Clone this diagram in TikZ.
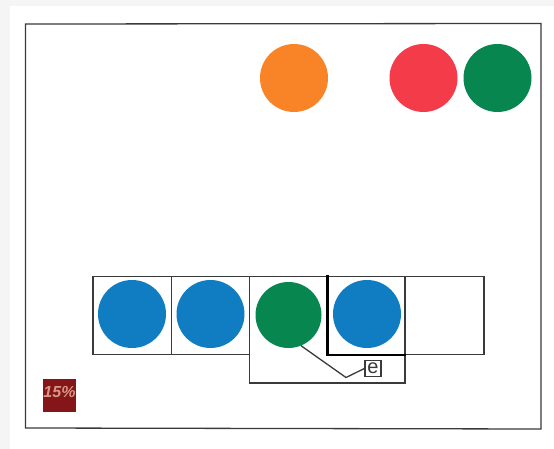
\documentclass[tikz,border=0pt]{standalone}
\usepackage{fontspec}
\setmainfont{Liberation Sans}
\definecolor{fOrange}{HTML}{F88427}
\definecolor{fRed}{HTML}{F43B4A}
\definecolor{fGreen}{HTML}{078650}
\definecolor{fBlue}{HTML}{107CC2}
\definecolor{fLine}{HTML}{3A3A3A}
\definecolor{fPage}{HTML}{F5F5F5}
\definecolor{fLogo}{HTML}{841518}
\definecolor{fLogoText}{HTML}{D89888}
\tikzset{
  x=1pt,y=-1pt,
  disc/.style={circle,inner sep=0pt,outer sep=0pt,minimum size=#1},
  cellbox/.style={draw=fLine,line width=1.2pt},
  wire/.style={draw=fLine,line width=1.3pt},
}
\begin{document}
\begin{tikzpicture}
\useasboundingbox (0,0) rectangle (554,449);
\fill[fPage] (0,0) rectangle (554,449);
\fill[white] (10,6) rectangle (554,449);
\draw[draw=fLine,line width=1.3pt] (25.5,24) -- (541,23.5) -- (541,429) -- (25.5,428) -- cycle;
% cells
\draw[cellbox] (249.5,276.5) rectangle (405,383);
\draw[cellbox] (93,276.5) rectangle (171.5,354.5);
\draw[cellbox] (171.5,276.5) rectangle (249.5,354.5);
\draw[cellbox] (405.5,276.5) rectangle (484,354.5);
\draw[cellbox] (327.5,276.5) rectangle (405.5,355);
\draw[draw=black,line width=2.2pt,line cap=rect] (327.5,276.5) -- (327.5,355) -- (405,355);
% discs
\node[disc=68pt,fill=fOrange] (o1) at (294,78) {};
\node[disc=68pt,fill=fRed] (r1) at (423.5,78) {};
\node[disc=68pt,fill=fGreen] (g1) at (497.5,78) {};
\node[disc=68pt,fill=fBlue] (b1) at (132,314) {};
\node[disc=68pt,fill=fBlue] (b2) at (210.5,314) {};
\node[disc=66pt,fill=fGreen] (g2) at (288.5,315) {};
\node[disc=68pt,fill=fBlue] (b3) at (367,314) {};
% label and connector
\node[draw=fLine,line width=1.2pt,fill=white,inner sep=0pt,minimum width=16pt,minimum height=16pt,text=fLine] (e) at (373,368.5) {\fontsize{20}{20}\selectfont e};
\coordinate (bend) at (346,377.5);
\draw[wire] (g2.-68) -- (bend) -- (e.west);
% logo
\node[fill=fLogo,inner sep=0pt,minimum size=33pt] (logo) at (59.5,395) {};
\node[text=fLogoText,inner sep=0pt,font=\bfseries\itshape\fontsize{16}{16}\selectfont] (pct) at (59.5,392.5) {15\%};
\end{tikzpicture}
\end{document}
